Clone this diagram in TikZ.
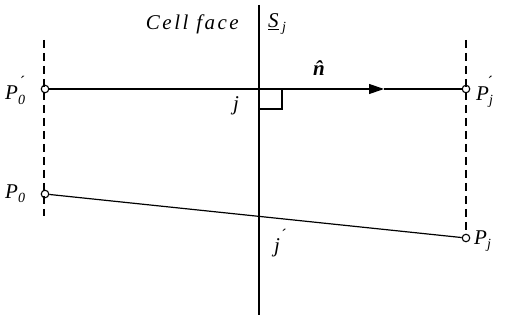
\documentclass[tikz,border=0pt]{standalone}
\usepackage{fontspec}
\setmainfont{Liberation Serif}
\usetikzlibrary{arrows.meta}
\newcommand{\lsub}[1]{\raisebox{-0.45ex}{\fontsize{14}{14}\selectfont\itshape #1}}
\newcommand{\lpr}{\llap{\raisebox{1.0ex}{\fontsize{16}{16}\selectfont\upshape\'{}\hspace{0.5pt}}}}
\begin{document}
\begin{tikzpicture}[x=1pt,y=-1pt,
  pt/.style={circle,draw,inner sep=0pt,minimum size=7.5pt,line width=1.1pt},
  lbl/.style={font=\fontsize{21}{23}\selectfont\itshape,inner sep=0pt},
  ln/.style={line width=1.2pt},
  dl/.style={line width=1.2pt,dash pattern=on 8pt off 5pt}]
\useasboundingbox (0,0) rectangle (508,320);
% face line
\coordinate (ft) at (259,5);
\coordinate (fb) at (259,315);
\draw[line width=1.5pt] (ft) -- (fb);
% dashed verticals
\coordinate (lt) at (44,40);
\coordinate (lb) at (44,216);
\coordinate (rt) at (466,40);
\coordinate (rb) at (466,234);
\draw[dl] (lt) -- (lb);
\draw[dl] (rt) -- (rb);
% points
\node[pt] (P0p) at (45,89) {};
\node[pt] (Pjp) at (466,89) {};
\node[pt] (P0) at (45,194) {};
\node[pt] (Pj) at (466,238) {};
\coordinate (am) at (384,89);
\draw[ln,-{Triangle[length=15pt,width=10pt]}] (P0p) -- (am);
\draw[ln] (am) -- (Pjp);
\draw[ln] (P0) -- (Pj);
% right angle
\draw[line width=1.1pt] (259,109) -- (282,109) -- (282,89);
% labels
\node[lbl,anchor=east] (cf) at (239,24) {\addfontfeature{LetterSpace=12}Cell face};
\node[lbl,anchor=west] (Sj) at (268,24) {\underline{S}\,\lsub{j}};
\node[lbl] (j) at (236,106) {j};
\node[lbl,anchor=west] (jp) at (274,243) {j\hspace{2pt}\raisebox{1.0ex}{\fontsize{16}{16}\selectfont\upshape\'{}}};
\node[lbl] (n) at (319,68) {\bfseries\^{n}};
\node[lbl,anchor=west] (P0pl) at (5,90) {P\lsub{0}\lpr};
\node[lbl,anchor=west] (P0l) at (5,194) {P\lsub{0}};
\node[lbl,anchor=west] (Pjpl) at (476,92) {P\lsub{j}\lpr};
\node[lbl,anchor=west] (Pjl) at (474,241) {P\lsub{j}};
\end{tikzpicture}
\end{document}
